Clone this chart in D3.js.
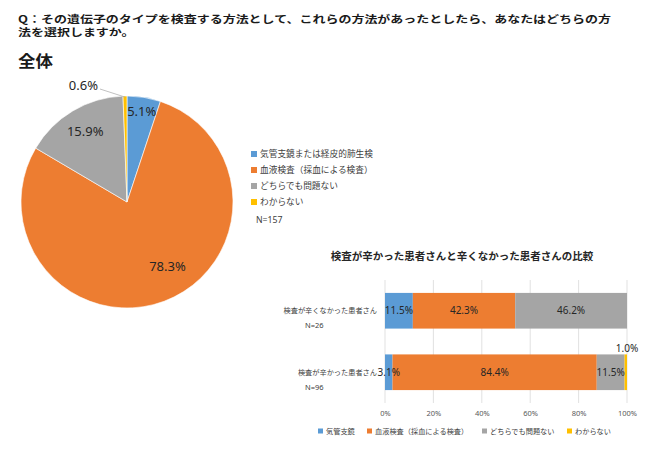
<!DOCTYPE html>
<html>
<head>
<meta charset="utf-8">
<script src="https://cdn.jsdelivr.net/npm/d3@7"></script>
<style>
  body { margin: 0; background: #fff; }
  svg { display: block; }
  .jp { font-family: "Noto Sans CJK JP", "Noto Sans", sans-serif; }
  .num { font-family: "Noto Sans", "DejaVu Sans", sans-serif; }
</style>
</head>
<body>
<svg id="chart" width="650" height="451"></svg>
<script>
// overall answers (pie)
const answers = ["気管支鏡または経皮的肺生検", "血液検査（採血による検査）", "どちらでも問題ない", "わからない"];
const overall = [5.1, 78.3, 15.9, 0.6];
const overallN = 157;
const colors = ["#5b9bd5", "#ed7d31", "#a5a5a5", "#ffc000"];

// comparison (stacked bars)
const groups = ["検査が辛くなかった患者さん", "検査が辛かった患者さん"];
const groupN = [26, 96];
const barAnswers = ["気管支鏡", "血液検査（採血による検査）", "どちらでも問題ない", "わからない"];
const notHard = [11.5, 42.3, 46.2, 0];
const hard = [3.1, 84.4, 11.5, 1.0];
const barTicks = [0, 20, 40, 60, 80, 100];

const titleLines = [
  "Q：その遺伝子のタイプを検査する方法として、これらの方法があったとしたら、あなたはどちらの方",
  "法を選択しますか。"
];

const svg = d3.select("#chart");

// titles (source is stretched horizontally)
const gTitle = svg.append("g").attr("transform", "translate(18,0) scale(1.3,1)");
gTitle.append("text").attr("class", "jp")
  .attr("font-size", 10).attr("font-weight", "bold").attr("fill", "#1a1a1a")
  .selectAll("tspan")
  .data(titleLines)
  .join("tspan")
    .attr("x", 0)
    .attr("y", (d, i) => 23 + i * 13)
    .text(d => d);
const gSub = svg.append("g").attr("transform", "translate(18,0) scale(1.13,1)");
gSub.append("text").attr("class", "jp")
  .attr("x", 0).attr("y", 67)
  .attr("font-size", 15.5).attr("font-weight", "bold").attr("fill", "#1a1a1a")
  .text("全体");

// ---- pie ----
const cx = 127, cy = 202, R = 106;
const pie = d3.pie().sort(null).value(d => d)(overall);
const arc = d3.arc().innerRadius(0).outerRadius(R);
const gPie = svg.append("g").attr("transform", `translate(${cx},${cy})`);

gPie.selectAll("path")
  .data(pie)
  .join("path")
    .attr("d", arc)
    .attr("fill", (d, i) => colors[i])
    .attr("stroke", "#fff")
    .attr("stroke-width", 0.6);

// label radius / angle shift per slice (excel style best fit)
const labelPos = [
  { r: 0.87, da: 0 },
  { r: 0.72, da: -0.2 },
  { r: 0.77, da: 0 }
];
pie.forEach((d, i) => {
  const txt = overall[i].toFixed(1) + "%";
  if (i < 3) {
    const a = (d.startAngle + d.endAngle) / 2 + labelPos[i].da;
    const r = R * labelPos[i].r;
    gPie.append("text").attr("class", "num")
      .attr("x", r * Math.sin(a)).attr("y", -r * Math.cos(a))
      .attr("dy", "0.35em").attr("text-anchor", "middle")
      .attr("font-size", 13).attr("fill", "#262626")
      .text(txt);
  } else {
    const a = (d.startAngle + d.endAngle) / 2;
    const p0 = [R * 0.99 * Math.sin(a), -R * 0.99 * Math.cos(a)];
    const p1 = [-27, -113];
    gPie.append("line")
      .attr("x1", p0[0]).attr("y1", p0[1]).attr("x2", p1[0]).attr("y2", p1[1])
      .attr("stroke", "#a6a6a6").attr("stroke-width", 0.7);
    gPie.append("text").attr("class", "num")
      .attr("x", p1[0] - 2).attr("y", p1[1] + 1)
      .attr("text-anchor", "end")
      .attr("font-size", 13).attr("fill", "#262626")
      .text(txt);
  }
});

// pie legend
const gLeg = svg.append("g").attr("transform", "translate(251,154)");
answers.forEach((name, i) => {
  const row = gLeg.append("g").attr("transform", `translate(0,${i * 16})`);
  row.append("rect").attr("x", 0).attr("y", -3).attr("width", 6).attr("height", 6)
    .attr("fill", colors[i]);
  row.append("text").attr("class", "jp")
    .attr("x", 9).attr("dy", "0.35em")
    .attr("font-size", 8.7).attr("fill", "#404040")
    .text(name);
});
gLeg.append("text").attr("class", "num")
  .attr("x", 5).attr("y", 66).attr("dy", "0.35em")
  .attr("font-size", 8.7).attr("fill", "#404040")
  .text("N=" + overallN);

// ---- stacked bars ----
svg.append("text").attr("class", "jp")
  .attr("x", 462).attr("y", 256).attr("dy", "0.35em")
  .attr("text-anchor", "middle")
  .attr("font-size", 10.5).attr("font-weight", "bold").attr("fill", "#262626")
  .text("検査が辛かった患者さんと辛くなかった患者さんの比較");

const x = d3.scaleLinear().domain([0, 100]).range([385, 627]);
const y = d3.scaleBand().domain(groups).range([280, 403]).paddingInner(0.42).paddingOuter(0.21);

svg.append("g")
  .selectAll("line")
  .data(barTicks)
  .join("line")
    .attr("x1", d => x(d)).attr("x2", d => x(d))
    .attr("y1", 280).attr("y2", 403)
    .attr("stroke", "#d9d9d9").attr("stroke-width", 0.8);

const axis = svg.append("g")
  .attr("transform", "translate(0,408)")
  .call(d3.axisBottom(x).tickValues(barTicks).tickFormat(d => d + "%").tickSize(0));
axis.select(".domain").remove();
axis.selectAll("text").attr("class", "num").attr("font-size", 7.5).attr("fill", "#595959");

const rows = [notHard, hard];
rows.forEach((vals, gi) => {
  const g = groups[gi];
  const stack = d3.cumsum(vals);
  vals.forEach((v, k) => {
    if (v <= 0) return;
    const x0 = x(stack[k] - v), x1 = x(stack[k]);
    svg.append("rect")
      .attr("x", x0).attr("y", y(g))
      .attr("width", x1 - x0).attr("height", y.bandwidth())
      .attr("fill", colors[k]);
  });
  vals.forEach((v, k) => {
    if (v <= 0) return;
    const x0 = x(stack[k] - v), x1 = x(stack[k]);
    const small = v < 2;
    svg.append("text").attr("class", "num")
      .attr("x", small ? x1 : (x0 + x1) / 2)
      .attr("y", small ? y(g) - 6 : y(g) + y.bandwidth() / 2)
      .attr("dy", "0.35em").attr("text-anchor", "middle")
      .attr("font-size", 10).attr("fill", "#262626")
      .text(v.toFixed(1) + "%");
  });
  const cyRow = y(g) + y.bandwidth() / 2;
  svg.append("text").attr("class", "jp")
    .attr("x", 377).attr("y", cyRow).attr("dy", "0.35em")
    .attr("text-anchor", "end")
    .attr("font-size", 7.2).attr("fill", "#404040")
    .text(g);
  svg.append("text").attr("class", "num")
    .attr("x", 305).attr("y", cyRow + 15).attr("dy", "0.35em")
    .attr("font-size", 7.5).attr("fill", "#404040")
    .text("N=" + groupN[gi]);
});

// bar legend
const legX = [318, 367, 482, 567];
barAnswers.forEach((name, i) => {
  const g = svg.append("g").attr("transform", `translate(${legX[i]},431)`);
  g.append("rect").attr("x", 0).attr("y", -2.5).attr("width", 5).attr("height", 5)
    .attr("fill", colors[i]);
  g.append("text").attr("class", "jp")
    .attr("x", 8).attr("dy", "0.35em")
    .attr("font-size", 7.2).attr("fill", "#404040")
    .text(name);
});
</script>
</body>
</html>
